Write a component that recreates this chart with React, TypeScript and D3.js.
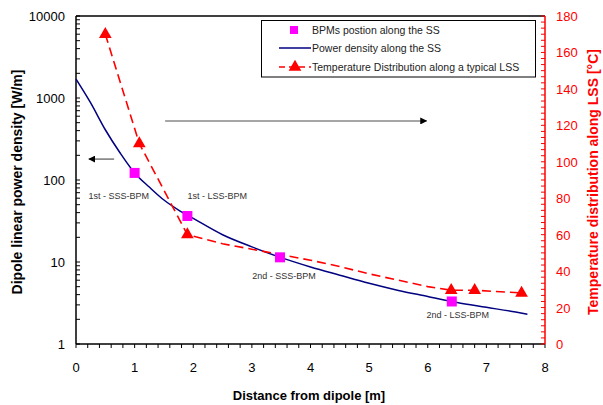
import React, { useEffect, useRef } from 'react';
import * as d3 from 'd3';

// distance from dipole [m] and linear power density [W/m] (blue curve)
const powerX = [0, 0.25, 0.5, 0.75, 1.0, 1.25, 1.5, 1.75, 2.0, 2.5, 3.0, 3.5, 4.0, 4.5, 5.0, 5.5, 6.0, 6.5, 7.0, 7.5, 7.7];
const powerY = [1700, 870, 410, 215, 122, 82, 57, 43, 34, 21.5, 15.3, 11.3, 8.7, 6.9, 5.5, 4.5, 3.8, 3.2, 2.8, 2.45, 2.3];

// BPM positions (magenta squares)
const bpmX = [1.0, 1.9, 3.48, 6.41];
const bpmY = [122, 36.4, 11.4, 3.3];
const bpmLabels = ['1st - SSS-BPM', '1st - LSS-BPM', '2nd - SSS-BPM', '2nd - LSS-BPM'];
const bpmLabelX = [0.73, 2.41, 3.55, 6.51];
const bpmLabelY = [64, 64, 6.8, 2.26];

// temperature along a typical LSS [°C] (red dashed, right axis)
const tempX = [0.5, 1.08, 1.9, 2.5, 3.0, 3.5, 4.0, 4.5, 5.0, 5.5, 6.0, 6.4, 6.8, 7.6];
const tempY = [170, 110, 60, 55, 52, 49, 46, 42.5, 38.5, 35, 31.5, 29.5, 29.5, 28];
const tempMarked = [true, true, true, false, false, false, false, false, false, false, false, true, true, true];

const xTicks = [0, 1, 2, 3, 4, 5, 6, 7, 8];
const leftTicks = [1, 10, 100, 1000, 10000];
const rightTicks = [0, 20, 40, 60, 80, 100, 120, 140, 160, 180];

const legendLabels = [
  'BPMs postion along the SS',
  'Power density along the SS',
  'Temperature Distribution along a typical LSS',
];

const FONT = '"Liberation Sans", Arial, sans-serif';

export default function App() {
  const ref = useRef<SVGSVGElement>(null);

  useEffect(() => {
    const svg = d3.select(ref.current);
    svg.selectAll('*').remove();

    const m = { left: 76, right: 545, top: 16, bottom: 344 };

    const x = d3.scaleLinear().domain([0, 8]).range([m.left, m.right]);
    const yL = d3.scaleLog().domain([1, 10000]).range([m.bottom, m.top]);
    const yR = d3.scaleLinear().domain([0, 180]).range([m.bottom, m.top]);

    const defs = svg.append('defs');
    defs.append('marker')
      .attr('id', 'head')
      .attr('viewBox', '0 0 10 10')
      .attr('refX', 9).attr('refY', 5)
      .attr('markerWidth', 7).attr('markerHeight', 7)
      .attr('markerUnits', 'userSpaceOnUse')
      .attr('orient', 'auto')
      .append('path').attr('d', 'M0,0L10,5L0,10z').attr('fill', '#000');

    // frame
    svg.append('line').attr('x1', m.left).attr('x2', m.right).attr('y1', m.top).attr('y2', m.top)
      .attr('stroke', '#000').attr('stroke-width', 1.5);

    // x axis
    const xMinor = d3.range(0, 8.001, 0.2);
    svg.append('g').selectAll('line').data(xMinor).enter().append('line')
      .attr('x1', (d) => x(d)).attr('x2', (d) => x(d))
      .attr('y1', m.bottom).attr('y2', m.bottom + 4)
      .attr('stroke', '#000').attr('stroke-width', 1);
    svg.append('line').attr('x1', m.left).attr('x2', m.right).attr('y1', m.bottom).attr('y2', m.bottom)
      .attr('stroke', '#000').attr('stroke-width', 1.5);
    svg.append('g').selectAll('text').data(xTicks).enter().append('text')
      .attr('x', (d) => x(d)).attr('y', 372)
      .attr('text-anchor', 'middle')
      .attr('font-family', FONT).attr('font-size', 13)
      .text((d) => d);

    // left axis (log)
    const leftMinor: number[] = [];
    for (let p = 1; p < 10000; p *= 10) {
      for (let k = 2; k <= 9; k++) leftMinor.push(p * k);
    }
    svg.append('g').selectAll('line').data(leftMinor.concat(leftTicks)).enter().append('line')
      .attr('x1', m.left).attr('x2', m.left + 4)
      .attr('y1', (d) => yL(d)).attr('y2', (d) => yL(d))
      .attr('stroke', '#000').attr('stroke-width', 1);
    svg.append('line').attr('x1', m.left).attr('x2', m.left).attr('y1', m.top).attr('y2', m.bottom)
      .attr('stroke', '#000').attr('stroke-width', 1.5);
    svg.append('g').selectAll('text').data(leftTicks).enter().append('text')
      .attr('x', 65).attr('y', (d) => yL(d) + 5)
      .attr('text-anchor', 'end')
      .attr('font-family', FONT).attr('font-size', 13)
      .text((d) => d);

    // right axis (temperature)
    const rightMinor = d3.range(0, 181, 20 / 6);
    svg.append('g').selectAll('line').data(rightMinor).enter().append('line')
      .attr('x1', m.right).attr('x2', m.right - 4)
      .attr('y1', (d) => yR(d)).attr('y2', (d) => yR(d))
      .attr('stroke', '#f00').attr('stroke-width', 1);
    svg.append('line').attr('x1', m.right).attr('x2', m.right).attr('y1', m.top).attr('y2', m.bottom)
      .attr('stroke', '#f00').attr('stroke-width', 1.5);
    svg.append('g').selectAll('text').data(rightTicks).enter().append('text')
      .attr('x', 556).attr('y', (d) => yR(d) + 5)
      .attr('font-family', FONT).attr('font-size', 13).attr('fill', '#f00')
      .text((d) => d);

    // axis titles
    svg.append('text')
      .attr('transform', `translate(22,${(m.top + m.bottom) / 2 + 2}) rotate(-90)`)
      .attr('text-anchor', 'middle')
      .attr('font-family', FONT).attr('font-size', 14).attr('font-weight', 'bold')
      .text('Dipole linear power density [W/m]');
    svg.append('text')
      .attr('x', 309).attr('y', 400)
      .attr('text-anchor', 'middle')
      .attr('font-family', FONT).attr('font-size', 13).attr('font-weight', 'bold')
      .text('Distance from dipole [m]');
    svg.append('text')
      .attr('transform', `translate(598,${(m.top + m.bottom) / 2 + 2}) rotate(-90)`)
      .attr('text-anchor', 'middle')
      .attr('font-family', FONT).attr('font-size', 14).attr('font-weight', 'bold')
      .attr('fill', '#f00')
      .text('Temperature distribution along LSS [°C]');

    // direction arrows
    svg.append('line')
      .attr('x1', x(0.65)).attr('x2', x(0.22)).attr('y1', yL(180)).attr('y2', yL(180))
      .attr('stroke', '#333').attr('stroke-width', 1).attr('marker-end', 'url(#head)');
    svg.append('line')
      .attr('x1', x(1.52)).attr('x2', x(5.98)).attr('y1', yR(122.4)).attr('y2', yR(122.4))
      .attr('stroke', '#888').attr('stroke-width', 1.5).attr('marker-end', 'url(#head)');

    // power density curve
    const powerData = powerX.map((d, i) => [d, powerY[i]] as [number, number]);
    const powerLine = d3.line<[number, number]>()
      .x((d) => x(d[0])).y((d) => yL(d[1]))
      .curve(d3.curveMonotoneX);
    svg.append('path').datum(powerData)
      .attr('d', powerLine)
      .attr('fill', 'none').attr('stroke', '#000080').attr('stroke-width', 1.5);

    // temperature
    const tempData = tempX.map((d, i) => [d, tempY[i]] as [number, number]);
    const tempLine = d3.line<[number, number]>()
      .x((d) => x(d[0])).y((d) => yR(d[1]));
    svg.append('path').datum(tempData)
      .attr('d', tempLine)
      .attr('fill', 'none').attr('stroke', '#f00').attr('stroke-width', 1.6)
      .attr('stroke-dasharray', '9,5');
    const tri = d3.symbol().type(d3.symbolTriangle).size(70);
    svg.append('g').selectAll('path').data(tempData.filter((d, i) => tempMarked[i])).enter().append('path')
      .attr('d', tri)
      .attr('transform', (d) => `translate(${x(d[0])},${yR(d[1])})`)
      .attr('fill', '#f00');

    // BPM squares and labels
    svg.append('g').selectAll('rect').data(bpmX).enter().append('rect')
      .attr('x', (d) => x(d) - 5).attr('y', (d, i) => yL(bpmY[i]) - 5)
      .attr('width', 10).attr('height', 10)
      .attr('fill', '#ff00ff');
    svg.append('g').selectAll('text').data(bpmLabels).enter().append('text')
      .attr('x', (d, i) => x(bpmLabelX[i])).attr('y', (d, i) => yL(bpmLabelY[i]) + 3.5)
      .attr('text-anchor', 'middle')
      .attr('font-family', FONT).attr('font-size', 9).attr('fill', '#333')
      .text((d) => d);

    // legend
    const lg = svg.append('g');
    lg.append('rect')
      .attr('x', 261.5).attr('y', 20.5).attr('width', 274).attr('height', 56.5)
      .attr('fill', '#fff').attr('stroke', '#000').attr('stroke-width', 1);
    const rowY = [30, 48, 67];
    lg.append('rect').attr('x', 290).attr('y', rowY[0] - 4).attr('width', 8).attr('height', 8).attr('fill', '#ff00ff');
    lg.append('line').attr('x1', 279).attr('x2', 311).attr('y1', rowY[1]).attr('y2', rowY[1])
      .attr('stroke', '#000080').attr('stroke-width', 1.5);
    lg.append('line').attr('x1', 279).attr('x2', 311).attr('y1', rowY[2]).attr('y2', rowY[2])
      .attr('stroke', '#f00').attr('stroke-width', 1.6).attr('stroke-dasharray', '6,4');
    lg.append('path').attr('d', tri).attr('transform', `translate(295,${rowY[2]})`).attr('fill', '#f00');
    lg.selectAll('text').data(legendLabels).enter().append('text')
      .attr('x', 312).attr('y', (d, i) => rowY[i] + 4)
      .attr('font-family', FONT).attr('font-size', 10.5).attr('fill', '#222')
      .text((d) => d);
  }, []);

  return (
    <svg ref={ref} width={603} height={405}
      style={{ position: 'absolute', left: 0, top: 0, background: '#fff' }} />
  );
}
